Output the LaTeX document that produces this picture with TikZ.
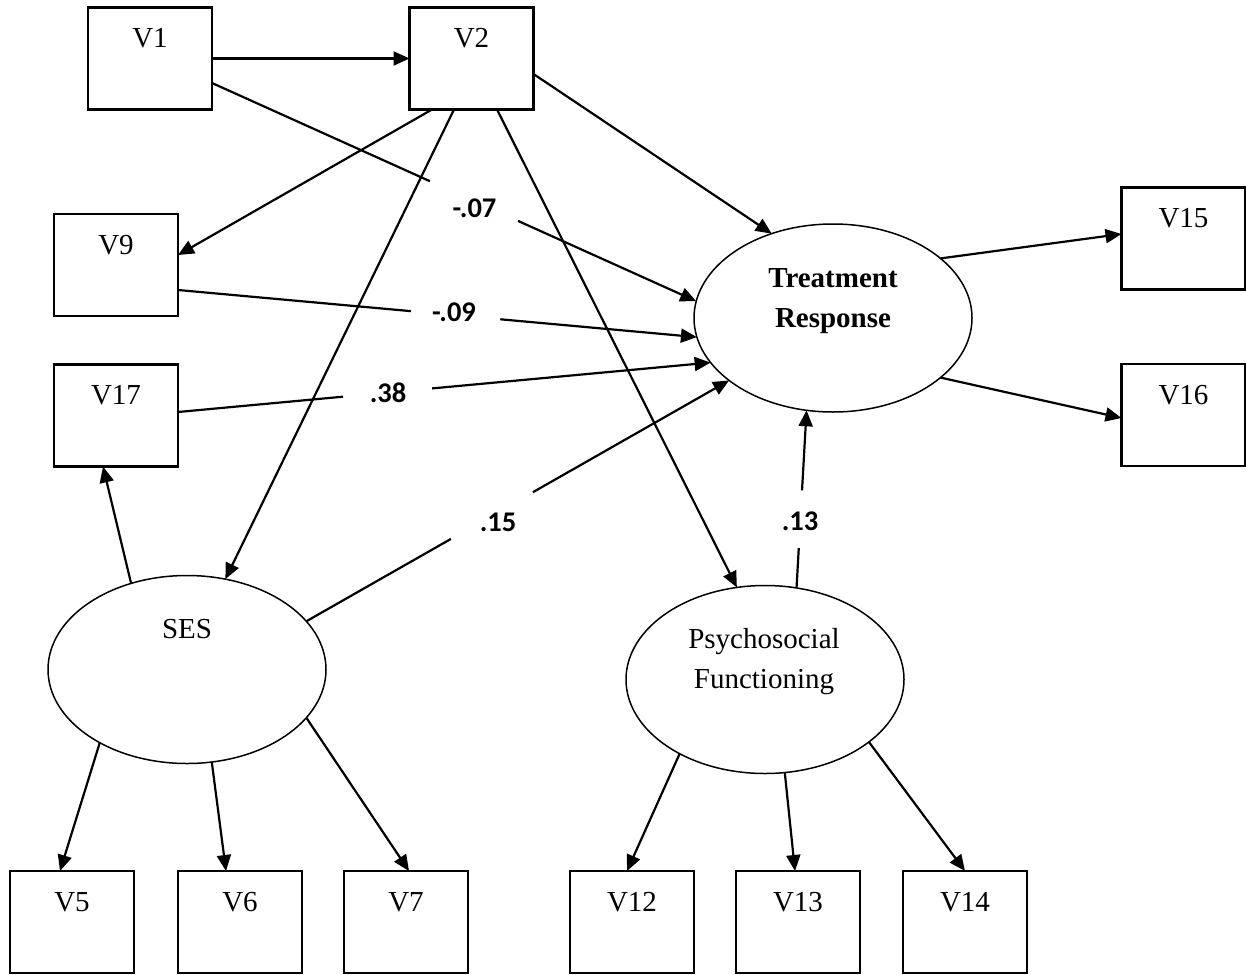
\documentclass[tikz,border=0pt]{standalone}
\usepackage{fontspec}
\setmainfont{Liberation Serif}
\newfontfamily\numfont{Carlito}
\usetikzlibrary{arrows.meta,calc,shapes.geometric}
\begin{document}
\begin{tikzpicture}[x=1pt,y=-1pt,
  box/.style={draw, line width=2.4pt, rectangle, minimum width=124pt, minimum height=102pt, inner sep=0pt, outer sep=0pt},
  latent/.style={draw, line width=1.5pt, ellipse, minimum width=278pt, minimum height=188pt, inner sep=0pt, outer sep=0pt},
  vtxt/.style={font=\fontsize{29}{40}\selectfont, inner sep=0pt, anchor=base},
  btxt/.style={font=\bfseries\fontsize{29}{40}\selectfont, inner sep=0pt, anchor=base},
  coef/.style={font=\numfont\bfseries\fontsize{28.5}{34}\selectfont, inner sep=0pt, anchor=base},
  conn/.style={line width=2.2pt},
  arr/.style={line width=2.2pt, -{Triangle[length=16pt,width=14pt]}}
]
\useasboundingbox (0,0) rectangle (1246,974);

% boxes
\node[box] (V1) at (150,58.5) {};
\node[box] (V2) at (471.5,58.5) {};
\node[box] (V9) at (116,265) {};
\node[box] (V17) at (116,415.5) {};
\node[box] (V15) at (1183.5,238.5) {};
\node[box] (V16) at (1183.5,415) {};
\node[box] (V5) at (72,922) {};
\node[box] (V6) at (240,922) {};
\node[box] (V7) at (406,922) {};
\node[box] (V12) at (632,922) {};
\node[box] (V13) at (798,922) {};
\node[box] (V14) at (965,922) {};

\foreach \n in {V1,V2,V9,V17,V15,V16,V5,V6,V7,V12,V13,V14}{
  \node[vtxt] (\n t) at ([yshift=-40pt]\n.north) {\n};
}

% latent variables
\node[latent] (TR) at (833,318) {};
\node[latent] (SES) at (187,669.5) {};
\node[latent] (PF) at (765,679.5) {};
\node[btxt] (TRa) at ([yshift=31pt]TR.center) {Treatment};
\node[btxt] (TRb) at ([yshift=-9pt]TR.center) {Response};
\node[vtxt] (SESt) at ([yshift=31.5pt]SES.center) {SES};
\node[vtxt] (PFa) at ([yshift=31.5pt,xshift=-1pt]PF.center) {Psychosocial};
\node[vtxt] (PFb) at ([yshift=-8.5pt,xshift=-1pt]PF.center) {Functioning};

% plain arrows
\draw[arr] (V1.east) -- (V2.west);
\draw[arr] ([xshift=-39.5pt]V2.south) -- ([yshift=10pt]V9.east);
\draw[arr] ([xshift=-17.5pt]V2.south) -- (SES.67.7);
\draw[arr] ([xshift=25.5pt]V2.south) -- (PF.107.1);
\draw[arr] ([yshift=-15.5pt]V2.east) -- (TR.126.5);
\draw[arr] (TR.29) -- ([yshift=4.5pt]V15.west);
\draw[arr] (TR.331) -- ([yshift=-3pt]V16.west);
\draw[arr] (SES.123.2) -- ([xshift=-13pt]V17.south);
\draw[arr] (SES.220.1) -- ([xshift=-12pt]V5.north);
\draw[arr] (SES.285) -- ([xshift=-14pt]V6.north);
\draw[arr] (SES.338.2) -- ([xshift=3pt]V7.north);
\draw[arr] (PF.221.1) -- ([xshift=-5pt]V12.north);
\draw[arr] (PF.282.1) -- ([xshift=-3pt]V13.north);
\draw[arr] (PF.329.7) -- (V14.north);

% labelled paths with gaps
\coordinate (a1) at ([yshift=-24.5pt]V1.east);
\coordinate (b1) at (TR.173.3);
\draw[conn] (a1) -- ($(a1)!0.450!(b1)$);
\draw[arr] ($(a1)!0.632!(b1)$) -- (b1);
\node[coef] (c1) at (474.5,217) {-.07};

\coordinate (a2) at ([yshift=-25pt]V9.east);
\coordinate (b2) at (TR.188.1);
\draw[conn] (a2) -- ($(a2)!0.449!(b2)$);
\draw[arr] ($(a2)!0.621!(b2)$) -- (b2);
\node[coef] (c2) at (454,321) {-.09};

\coordinate (a3) at ([yshift=3.5pt]V17.east);
\coordinate (b3) at (TR.200.9);
\draw[conn] (a3) -- ($(a3)!0.310!(b3)$);
\draw[arr] ($(a3)!0.477!(b3)$) -- (b3);
\node[coef] (c3) at (388,402) {.38};

\coordinate (a4) at (SES.22.2);
\coordinate (b4) at (TR.211);
\draw[conn] (a4) -- ($(a4)!0.342!(b4)$);
\draw[arr] ($(a4)!0.536!(b4)$) -- (b4);
\node[coef] (c4) at (498,531) {.15};

\coordinate (a5) at (PF.71.5);
\coordinate (b5) at (TR.254.7);
\draw[conn] (a5) -- ($(a5)!0.224!(b5)$);
\draw[arr] ($(a5)!0.549!(b5)$) -- (b5);
\node[coef] (c5) at (800,530) {.13};
\end{tikzpicture}
\end{document}
